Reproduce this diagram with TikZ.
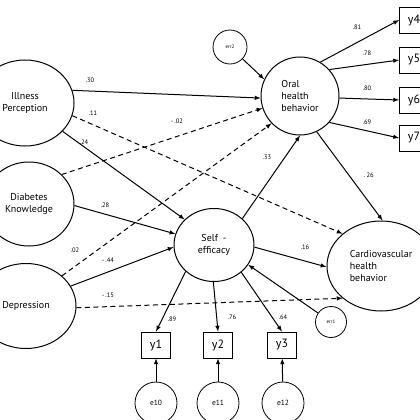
\documentclass[tikz,border=0pt]{standalone}
\usepackage{fontspec}
\setmainfont{PT Sans}
\usetikzlibrary{shapes.geometric}

\begin{document}
\begin{tikzpicture}[x=1pt, y=-1pt, >=latex,
    latent/.style={draw, ellipse, line width=1pt, inner sep=0pt, align=center,
                   font=\fontsize{10}{12}\selectfont},
    obs/.style={draw, rectangle, line width=0.8pt, minimum width=29pt, minimum height=26pt,
                inner sep=0pt, font=\fontsize{12}{12}\selectfont},
    err/.style={draw, circle, line width=0.8pt, inner sep=0pt},
    coef/.style={inner sep=0pt, font=\fontsize{6.5}{7}\selectfont},
    path/.style={->, line width=1pt},
    dpath/.style={->, line width=1pt, dash pattern=on 5pt off 3.5pt}]

\clip (0,0) rectangle (420,420);

% exogenous
\node[latent, minimum width=98pt, minimum height=86pt] (ill) at (25,103) {Illness\\Perception};
\node[latent, minimum width=90pt, minimum height=84pt] (dk) at (29,204) {Diabetes\\Knowledge};
\node[latent, minimum width=100pt, minimum height=85pt] (dep) at (26,306) {Depression};

% mediator and outcomes
\node[latent, minimum width=80pt, minimum height=73pt] (se) at (214,245) {Self\enspace-\\efficacy};
\node[latent, minimum width=78pt, minimum height=78pt, align=left] (ohb) at (300,96) {Oral\\health\\behavior};
\node[latent, minimum width=108pt, minimum height=90pt, align=left] (chb) at (381,266) {Cardiovascular\\health\\behavior};

% errors
\node[err, minimum size=34pt, font=\fontsize{5}{5}\selectfont] (err2) at (230,47) {err2};
\node[err, minimum size=31pt, font=\fontsize{5}{5}\selectfont] (err1) at (331,322) {err1};

% indicators
\node[obs] (y1) at (156,345) {y1};
\node[obs] (y2) at (218,345) {y2};
\node[obs] (y3) at (282,345) {y3};
\node[obs] (y4) at (414,20) {y4};
\node[obs] (y5) at (414,60) {y5};
\node[obs] (y6) at (414,100) {y6};
\node[obs] (y7) at (414,138) {y7};

\node[err, minimum size=42pt, font=\fontsize{7.5}{8}\selectfont] (e10) at (156,403) {e10};
\node[err, minimum size=42pt, font=\fontsize{7.5}{8}\selectfont] (e11) at (218,403) {e11};
\node[err, minimum size=42pt, font=\fontsize{7.5}{8}\selectfont] (e12) at (283,403) {e12};

% structural paths
\draw[path] (ill.15) -- (ohb.183);
\draw[dpath] (ill.-15) -- (chb.140);
\draw[path] (ill.-37) -- (se.139);
\draw[dpath] (dk.42) -- (ohb.198);
\draw[path] (dk.-2) -- (se.164);
\draw[dpath] (dep.40) -- (ohb.224);
\draw[path] (dep.24) -- (se.183);
\draw[dpath] (dep.-2) -- (chb.220);
\draw[path] (se.43) -- (ohb.270);
\draw[path] (se.-3) -- (chb.181);
\draw[path] (ohb.-65) -- (chb.88);
\draw[path] (err2) -- (ohb.155);
\draw[path] (err1) -- (se.-30);

% measurement
\draw[path] (se.223) -- (y1.north);
\draw[path] (se.269) -- (y2.north);
\draw[path] (se.-45) -- (y3.north);
\draw[path] (ohb.59) -- (y4.west);
\draw[path] (ohb.42) -- (y5.west);
\draw[path] (ohb.-3) -- (y6.west);
\draw[path] (ohb.-42) -- (y7.west);
\draw[path] (e10) -- (y1);
\draw[path] (e11) -- (y2);
\draw[path] (e12) -- (y3);

% coefficients
\node[coef] (c30) at (90,80) {.30};
\node[coef] (c11) at (93,113) {.11};
\node[coef] (c24) at (84,142) {.24};
\node[coef] (cm02) at (177,121) {-\,.02};
\node[coef] (c28) at (105,205) {.28};
\node[coef] (c02) at (75,250) {.02};
\node[coef] (cm44) at (108,260) {-\,.44};
\node[coef] (cm15) at (108,295) {-\,.15};
\node[coef] (c33) at (267,157) {.33};
\node[coef] (c26) at (369,175) {.\,26};
\node[coef] (c16) at (305,247) {.16};
\node[coef] (c89) at (172,319) {.89};
\node[coef] (c76) at (232,317) {.76};
\node[coef] (c64) at (283,317) {.64};
\node[coef] (c81) at (357,27) {.81};
\node[coef] (c78) at (367,53) {.78};
\node[coef] (c80) at (367,88) {.80};
\node[coef] (c69) at (367,122) {.69};

\end{tikzpicture}
\end{document}
